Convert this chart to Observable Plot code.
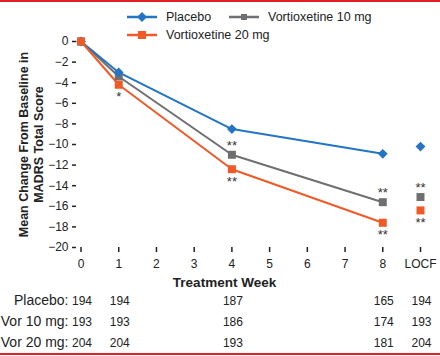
<!DOCTYPE html>
<html><head><meta charset="utf-8">
<script src="https://cdn.jsdelivr.net/npm/d3@7"></script>
<script src="https://cdn.jsdelivr.net/npm/@observablehq/plot@0.6"></script>
<style>
html,body{margin:0;padding:0;background:#fff;}
#wrap{position:relative;width:440px;border-top:2px solid #e41f26;border-bottom:2px solid #e41f26;font-family:"Liberation Sans",Arial,Helvetica,sans-serif;}
#wrap > svg{display:block;}
#legend{position:absolute;left:127px;top:6px;display:grid;grid-template-columns:102px auto;grid-auto-rows:18px;font-size:12.5px;color:#222;}
.item{display:flex;align-items:center;white-space:nowrap;}
.item svg{margin-right:9px;display:block;flex-shrink:0;}
</style></head><body>
<div id="wrap"><div id="legend"></div></div>
<script>
// ---- data ----
const seriesNames = ["Placebo", "Vortioxetine 10 mg", "Vortioxetine 20 mg"];
const seriesColors = ["#2474c4", "#6f6f71", "#f15a27"];
const seriesSymbols = ["diamond2", "square", "square"];
const weekPositions = [0, 1, 4, 8, 9];           // 9 = LOCF column
const xTicks = [0, 1, 2, 3, 4, 5, 6, 7, 8, 9];
const xTickLabels = ["0", "1", "2", "3", "4", "5", "6", "7", "8", "LOCF"];
const yTicks = [-20, -18, -16, -14, -12, -10, -8, -6, -4, -2, 0];
const placebo = [0, -3.0, -8.5, -10.9, -10.2];
const vor10   = [0, -3.4, -11.0, -15.6, -15.1];
const vor20   = [0, -4.2, -12.4, -17.6, -16.4];
const vor10Sig = ["", "", "**", "**", "**"];
const vor20Sig = ["", "*", "**", "**", "**"];
const tableLabels = ["Placebo:", "Vor 10 mg:", "Vor 20 mg:"];
const placeboN = [194, 194, 187, 165, 194];
const vor10N   = [193, 193, 186, 174, 193];
const vor20N   = [204, 204, 193, 181, 204];
const yLabel = "Mean Change From Baseline in\nMADRS Total Score";
const xLabel = "Treatment Week";

// ---- build tables ----
const values = [placebo, vor10, vor20];
const rowsFor = (k) => weekPositions.map((w, j) => ({week: w, value: values[k][j]}));
const drawOrder = [1, 0, 2];
const font = '"Liberation Sans", Arial, Helvetica, sans-serif';
const ink = "#222";

const marks = [];
marks.push(Plot.axisY({ticks: yTicks, tickSize: 4, tickPadding: 4, strokeWidth: 1.5, label: null, fontSize: 12, line: true}));
marks.push(Plot.axisX({ticks: xTicks, tickFormat: d => xTickLabels[xTicks.indexOf(d)], tickSize: 5, tickPadding: 7, strokeWidth: 1.5, label: null, fontSize: 12, line: true}));
for (const k of drawOrder) {
  marks.push(Plot.line(rowsFor(k).filter(d => d.week < 9), {x: "week", y: "value", stroke: seriesColors[k], strokeWidth: 2}));
}
for (const k of drawOrder) {
  marks.push(Plot.dot(rowsFor(k), {x: "week", y: "value", symbol: seriesSymbols[k], r: k === 0 ? 4.4 : 4.5, fill: seriesColors[k], stroke: "none"}));
}
// significance stars
const sig10 = weekPositions.map((w, j) => ({week: w, value: vor10[j], s: vor10Sig[j]})).filter(d => d.s);
const sig20 = weekPositions.map((w, j) => ({week: w, value: vor20[j], s: vor20Sig[j]})).filter(d => d.s);
marks.push(Plot.text(sig10, {x: "week", y: "value", text: "s", dy: -9, fontSize: 13, fill: "#333"}));
marks.push(Plot.text(sig20, {x: "week", y: "value", text: "s", dy: 12.5, fontSize: 13, fill: "#333"}));
// axis titles
marks.push(Plot.text([yLabel], {text: d => d, frameAnchor: "left", textAnchor: "middle", dx: -45.5, rotate: -90, fontWeight: "bold", fontSize: 12.5, lineHeight: 1.2, fill: ink}));
marks.push(Plot.text([xLabel], {text: d => d, frameAnchor: "bottom", dx: -24, dy: 39, fontWeight: "bold", fontSize: 13.5, fill: ink}));
// sample-size table
const nTable = [placeboN, vor10N, vor20N];
nTable.forEach((ns, i) => {
  marks.push(Plot.text(weekPositions.map((w, j) => ({week: w, n: ns[j]})), {x: "week", text: "n", frameAnchor: "bottom", dx: 1, dy: 57 + 21 * i, fontSize: 12, fill: ink}));
  marks.push(Plot.text([tableLabels[i]], {text: d => d, frameAnchor: "bottom-left", dx: -8, dy: 57 + 21 * i, textAnchor: "end", fontSize: 14, fill: ink}));
});

const chart = Plot.plot({
  width: 440, height: 351,
  marginTop: 39, marginBottom: 106, marginLeft: 76, marginRight: 20,
  style: {fontFamily: font, fontSize: "12px", color: ink, background: "#fff"},
  x: {domain: [-0.12, 9]},
  y: {domain: [-20, 0]},
  marks
});
document.getElementById("wrap").appendChild(chart);

// ---- legend ----
const legend = document.getElementById("legend");
seriesNames.forEach((name, k) => {
  const item = document.createElement("div");
  item.className = "item";
  const ns = "http://www.w3.org/2000/svg";
  const s = document.createElementNS(ns, "svg");
  s.setAttribute("width", 30); s.setAttribute("height", 12);
  const ln = document.createElementNS(ns, "line");
  ln.setAttribute("x1", 0); ln.setAttribute("x2", 30); ln.setAttribute("y1", 6); ln.setAttribute("y2", 6);
  ln.setAttribute("stroke", seriesColors[k]); ln.setAttribute("stroke-width", 2.5);
  s.appendChild(ln);
  let m;
  if (seriesSymbols[k] === "diamond2") {
    m = document.createElementNS(ns, "polygon");
    m.setAttribute("points", "15,1 20,6 15,11 10,6");
  } else {
    const half = k === 1 ? 3 : 4;
    m = document.createElementNS(ns, "rect");
    m.setAttribute("x", 15 - half); m.setAttribute("y", 6 - half);
    m.setAttribute("width", 2 * half); m.setAttribute("height", 2 * half);
  }
  m.setAttribute("fill", seriesColors[k]);
  s.appendChild(m);
  item.appendChild(s);
  const t = document.createElement("span");
  t.textContent = name;
  item.appendChild(t);
  legend.appendChild(item);
});
</script>
</body></html>
